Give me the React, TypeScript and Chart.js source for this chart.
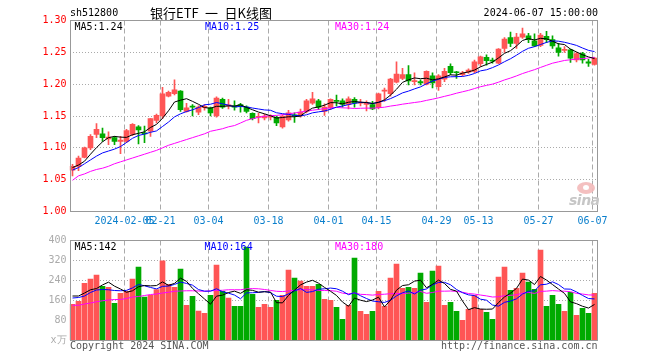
import React, { useEffect, useRef } from 'react';
import { Chart, registerables } from 'chart.js';

Chart.register(...registerables);

// ---------- DATA ----------
const dates = [
  '2024-01-23','2024-01-24','2024-01-25','2024-01-26','2024-01-29','2024-01-30','2024-01-31','2024-02-01','2024-02-02','2024-02-05',
  '2024-02-06','2024-02-07','2024-02-08','2024-02-19','2024-02-20','2024-02-21','2024-02-22','2024-02-23','2024-02-26','2024-02-27',
  '2024-02-28','2024-02-29','2024-03-01','2024-03-04','2024-03-05','2024-03-06','2024-03-07','2024-03-08','2024-03-11','2024-03-12',
  '2024-03-13','2024-03-14','2024-03-15','2024-03-18','2024-03-19','2024-03-20','2024-03-21','2024-03-22','2024-03-25','2024-03-26',
  '2024-03-27','2024-03-28','2024-03-29','2024-04-01','2024-04-02','2024-04-03','2024-04-08','2024-04-09','2024-04-10','2024-04-11',
  '2024-04-12','2024-04-15','2024-04-16','2024-04-17','2024-04-18','2024-04-19','2024-04-22','2024-04-23','2024-04-24','2024-04-25',
  '2024-04-26','2024-04-29','2024-04-30','2024-05-06','2024-05-07','2024-05-08','2024-05-09','2024-05-10','2024-05-13','2024-05-14',
  '2024-05-15','2024-05-16','2024-05-17','2024-05-20','2024-05-21','2024-05-22','2024-05-23','2024-05-24','2024-05-27','2024-05-28',
  '2024-05-29','2024-05-30','2024-05-31','2024-06-03','2024-06-04','2024-06-05','2024-06-06','2024-06-07',
];

const openPrices = [
  1.065,1.071,1.085,1.100,1.121,1.122,1.114,1.116,1.110,1.110,
  1.121,1.133,1.123,1.126,1.143,1.150,1.181,1.185,1.189,1.157,
  1.165,1.156,1.163,1.163,1.150,1.176,1.166,1.166,1.168,1.164,
  1.154,1.148,1.147,1.148,1.148,1.133,1.144,1.152,1.150,1.157,
  1.170,1.174,1.157,1.163,1.174,1.174,1.168,1.176,1.170,1.168,
  1.168,1.163,1.189,1.185,1.203,1.209,1.215,1.204,1.204,1.200,
  1.213,1.196,1.208,1.228,1.219,1.215,1.219,1.220,1.232,1.242,
  1.238,1.233,1.256,1.273,1.264,1.274,1.276,1.268,1.261,1.275,
  1.270,1.257,1.253,1.254,1.238,1.248,1.235,1.231,
];
const highPrices = [
  1.074,1.087,1.101,1.121,1.138,1.131,1.125,1.118,1.118,1.129,
  1.138,1.135,1.134,1.146,1.153,1.195,1.189,1.207,1.190,1.170,
  1.168,1.166,1.168,1.164,1.180,1.178,1.176,1.174,1.170,1.166,
  1.155,1.154,1.153,1.152,1.150,1.152,1.159,1.155,1.161,1.176,
  1.187,1.176,1.169,1.177,1.183,1.177,1.180,1.179,1.176,1.174,
  1.173,1.186,1.194,1.209,1.235,1.225,1.229,1.218,1.207,1.221,
  1.218,1.215,1.225,1.232,1.220,1.220,1.224,1.238,1.244,1.246,
  1.241,1.256,1.273,1.282,1.280,1.288,1.280,1.279,1.280,1.283,
  1.276,1.264,1.259,1.255,1.250,1.250,1.239,1.242,
];
const lowPrices = [
  1.056,1.064,1.084,1.097,1.116,1.110,1.105,1.105,1.091,1.108,
  1.119,1.106,1.108,1.118,1.139,1.146,1.180,1.183,1.157,1.156,
  1.150,1.152,1.159,1.150,1.148,1.162,1.161,1.159,1.156,1.155,
  1.144,1.139,1.144,1.144,1.135,1.131,1.142,1.140,1.148,1.155,
  1.168,1.160,1.151,1.160,1.166,1.164,1.161,1.164,1.166,1.158,
  1.160,1.161,1.173,1.181,1.202,1.207,1.199,1.199,1.199,1.199,
  1.194,1.190,1.204,1.215,1.209,1.213,1.217,1.218,1.228,1.230,
  1.233,1.232,1.250,1.259,1.256,1.272,1.265,1.259,1.259,1.265,
  1.256,1.244,1.250,1.234,1.235,1.233,1.228,1.230,
];
const closePrices = [
  1.071,1.084,1.100,1.118,1.129,1.116,1.117,1.110,1.112,1.127,
  1.137,1.128,1.122,1.146,1.151,1.185,1.187,1.191,1.160,1.163,
  1.164,1.164,1.165,1.155,1.178,1.164,1.167,1.164,1.165,1.157,
  1.146,1.149,1.150,1.150,1.139,1.150,1.155,1.150,1.156,1.174,
  1.177,1.164,1.164,1.176,1.173,1.168,1.177,1.170,1.171,1.170,
  1.161,1.185,1.190,1.208,1.216,1.215,1.205,1.205,1.202,1.220,
  1.202,1.213,1.220,1.218,1.218,1.218,1.222,1.235,1.243,1.237,
  1.236,1.255,1.271,1.264,1.274,1.279,1.270,1.260,1.277,1.270,
  1.260,1.250,1.254,1.241,1.248,1.238,1.233,1.241,
];
// volume, 万手
const volumes = [
  145,157,229,246,262,217,213,149,189,197,
  246,294,174,181,204,319,225,213,286,141,
  177,118,109,181,302,197,170,137,137,374,
  185,133,145,133,161,181,282,250,238,217,
  217,225,165,161,133,85,141,330,117,105,
  117,197,137,250,306,209,213,209,270,153,
  278,298,141,153,117,81,125,181,125,113,
  85,254,294,201,209,270,234,205,362,137,
  181,145,117,193,101,129,109,189,
];

// moving-average values for the first days (their windows start before the chart)
const priceMa5Lead = [1.069, 1.073, 1.079, 1.090];
const priceMa10Lead = [1.065, 1.069, 1.075, 1.081, 1.087, 1.092, 1.095, 1.098, 1.102];
const priceMa30Lead = [
  1.049,1.056,1.059,1.063,1.066,1.068,1.071,1.075,1.078,1.081,
  1.084,1.087,1.090,1.093,1.096,1.100,1.104,1.107,1.110,1.113,
  1.116,1.119,1.122,1.126,1.128,1.130,1.133,1.135,1.139,
];
const volMa5Lead = [178, 178, 190, 203];
const volMa10Lead = [170, 172, 178, 192, 202, 204, 203, 200, 199];
const volMa30Lead = [
  141,141,146,150,155,159,162,164,164,168,
  174,176,180,184,186,190,193,197,198,199,
  199,198,197,199,200,201,203,203,203,
];

const tickIndices = [9, 15, 23, 33, 43, 51, 61, 68, 78, 87];
const tickLabels = ['2024-02-05', '02-21', '03-04', '03-18', '04-01', '04-15', '04-29', '05-13', '05-27', '06-07'];

const priceTicks = [1.0, 1.05, 1.1, 1.15, 1.2, 1.25, 1.3];
const volumeTicks = [0, 80, 160, 240, 320, 400];

const legendPrice = ['MA5:1.24', 'MA10:1.25', 'MA30:1.24'];
const legendVolume = ['MA5:142', 'MA10:164', 'MA30:180'];

// ---------- STYLE ----------
const MONO = '"DejaVu Sans Mono", monospace';
const UP = '#ff5555';
const DOWN = '#00aa00';

function movingAverage(values: number[], n: number, lead: number[]) {
  return values.map((_, i) => {
    if (i < n - 1) return lead[i];
    let s = 0;
    for (let k = i - n + 1; k <= i; k++) s += values[k];
    return s / n;
  });
}

const isUp = closePrices.map((c, i) => c >= openPrices[i]);
const candleColors = isUp.map((u) => (u ? UP : DOWN));

const framePlugin = {
  id: 'frame',
  beforeDatasetsDraw(chart: any) {
    const { ctx, chartArea } = chart;
    const xs = chart.scales.x;
    ctx.save();
    ctx.strokeStyle = '#aaaaaa';
    ctx.lineWidth = 1;
    ctx.setLineDash([5, 3]);
    for (const i of tickIndices) {
      const x = Math.floor(xs.getPixelForValue(i) - 2) + 0.5;
      ctx.beginPath();
      ctx.moveTo(x, chartArea.top);
      ctx.lineTo(x, chartArea.bottom);
      ctx.stroke();
    }
    ctx.restore();
  },
  afterDraw(chart: any) {
    const { ctx, chartArea } = chart;
    const x0 = Math.round(chartArea.left) + 0.5;
    const x1 = Math.floor(chartArea.right) + 0.5;
    const y0 = Math.floor(chartArea.top) + 0.5;
    const y1 = Math.floor(chartArea.bottom) + 0.5;
    ctx.save();
    ctx.strokeStyle = '#999999';
    ctx.lineWidth = 1;
    ctx.setLineDash([]);
    ctx.strokeRect(x0, y0, x1 - x0, y1 - y0);
    ctx.restore();
  },
};

function lineDs(data: number[], color: string) {
  return {
    type: 'line' as const,
    data,
    borderColor: color,
    backgroundColor: color,
    borderWidth: 1,
    pointRadius: 0,
    tension: 0,
    fill: false,
    order: 0,
  };
}

export default function App() {
  const priceRef = useRef<HTMLCanvasElement>(null);
  const volRef = useRef<HTMLCanvasElement>(null);

  useEffect(() => {
    Chart.defaults.font.family = MONO;
    Chart.defaults.font.size = 10;

    const ma5 = movingAverage(closePrices, 5, priceMa5Lead);
    const ma10 = movingAverage(closePrices, 10, priceMa10Lead);
    const ma30 = movingAverage(closePrices, 30, priceMa30Lead);
    const vma5 = movingAverage(volumes, 5, volMa5Lead);
    const vma10 = movingAverage(volumes, 10, volMa10Lead);
    const vma30 = movingAverage(volumes, 30, volMa30Lead);

    const wicks = lowPrices.map((l, i) => [l, highPrices[i]]);
    const bodies = openPrices.map((o, i) => [Math.min(o, closePrices[i]), Math.max(o, closePrices[i])]);

    const priceChart = new Chart(priceRef.current as HTMLCanvasElement, {
      type: 'bar',
      data: {
        labels: dates,
        datasets: [
          lineDs(ma5, '#000000'),
          lineDs(ma10, '#0000ff'),
          lineDs(ma30, '#ff00ff'),
          {
            type: 'bar',
            data: wicks as any,
            backgroundColor: candleColors,
            barThickness: 1,
            grouped: false,
            borderWidth: 0,
            order: 2,
          } as any,
          {
            type: 'bar',
            data: bodies as any,
            backgroundColor: candleColors,
            barThickness: 5,
            grouped: false,
            minBarLength: 1,
            borderWidth: 0,
            order: 1,
          } as any,
        ],
      },
      options: {
        animation: false,
        responsive: false,
        events: [],
        layout: { padding: { top: 20.5, right: 62.5, left: 0, bottom: 0 } },
        plugins: { legend: { display: false }, tooltip: { enabled: false } },
        scales: {
          x: {
            offset: true,
            grid: { display: false, drawTicks: false },
            border: { display: false },
            ticks: {
              autoSkip: false,
              maxRotation: 0,
              minRotation: 0,
              padding: 4,
              labelOffset: -2,
              color: '#0a7fcc',
              font: { family: MONO, size: 10 },
              callback: (_v: any, i: number) => {
                const k = tickIndices.indexOf(i);
                return k >= 0 ? tickLabels[k] : '';
              },
            },
            afterFit: (s: any) => {
              s.height = 360 - 211.5;
            },
          },
          y: {
            min: priceTicks[0],
            max: priceTicks[priceTicks.length - 1],
            afterBuildTicks: (s: any) => {
              s.ticks = priceTicks.map((v) => ({ value: v }));
            },
            ticks: {
              color: '#ff0000',
              padding: 3,
              font: { family: MONO, size: 10 },
              callback: (v: any) => Number(v).toFixed(2),
            },
            grid: {
              drawTicks: false,
              color: (c: any) =>
                c.tick && (c.tick.value <= 1.0001 || c.tick.value >= 1.2999) ? 'rgba(0,0,0,0)' : '#aaaaaa',
            },
            border: { display: false, dash: [1, 2] },
            afterFit: (s: any) => {
              s.width = 69.5;
            },
          },
        },
      } as any,
      plugins: [framePlugin],
    });

    const volChart = new Chart(volRef.current as HTMLCanvasElement, {
      type: 'bar',
      data: {
        labels: dates,
        datasets: [
          lineDs(vma5, '#000000'),
          lineDs(vma10, '#0000ff'),
          lineDs(vma30, '#ff00ff'),
          {
            type: 'bar',
            data: volumes,
            backgroundColor: candleColors,
            barThickness: 5,
            borderWidth: 0,
            order: 1,
          } as any,
        ],
      },
      options: {
        animation: false,
        responsive: false,
        events: [],
        layout: { padding: { top: 240.5, right: 62.5, left: 0, bottom: 19.5 } },
        plugins: { legend: { display: false }, tooltip: { enabled: false } },
        scales: {
          x: {
            display: false,
            offset: true,
          },
          y: {
            min: volumeTicks[0],
            max: volumeTicks[volumeTicks.length - 1],
            afterBuildTicks: (s: any) => {
              s.ticks = volumeTicks.map((v) => ({ value: v }));
            },
            ticks: {
              color: '#aaaaaa',
              padding: 3,
              font: { family: MONO, size: 10 },
              callback: (v: any) => (Number(v) === 0 ? 'x万' : String(v)),
            },
            grid: {
              drawTicks: false,
              color: (c: any) =>
                c.tick && (c.tick.value <= 0 || c.tick.value >= 400) ? 'rgba(0,0,0,0)' : '#aaaaaa',
            },
            border: { display: false, dash: [1, 2] },
            afterFit: (s: any) => {
              s.width = 69.5;
            },
          },
        },
      } as any,
      plugins: [framePlugin],
    });

    return () => {
      priceChart.destroy();
      volChart.destroy();
    };
  }, []);

  const txt = (left: number | null, right: number | null, cy: number, size: number, color: string, family: string, extra: any = {}) => {
    const st: any = {
      position: 'absolute',
      top: cy - size / 2 - 1,
      height: size + 2,
      lineHeight: `${size + 2}px`,
      fontSize: size,
      fontFamily: family,
      color,
      whiteSpace: 'pre',
      ...extra,
    };
    if (left !== null) st.left = left;
    if (right !== null) st.right = 660 - right;
    return st;
  };

  return (
    <div style={{ position: 'absolute', left: 0, top: 0, width: 660, height: 360, background: '#ffffff', overflow: 'hidden' }}>
      <canvas ref={priceRef} width={660} height={360} style={{ position: 'absolute', left: 0, top: 0, width: 660, height: 360 }} />
      <canvas ref={volRef} width={660} height={360} style={{ position: 'absolute', left: 0, top: 0, width: 660, height: 360 }} />

      <div style={txt(70, null, 12.5, 10, '#000', MONO)}>sh512800</div>
      <div style={txt(150, null, 12, 13, '#000', '"Noto Sans CJK SC", sans-serif')}>{'银行ETF\u2002一\u2002日K线图'}</div>
      <div style={txt(null, 598, 12.5, 10, '#000', MONO)}>2024-06-07 15:00:00</div>

      <div style={txt(74.5, null, 26.5, 10, '#000000', MONO)}>{legendPrice[0]}</div>
      <div style={txt(205, null, 26.5, 10, '#0000ff', MONO)}>{legendPrice[1]}</div>
      <div style={txt(335, null, 26.5, 10, '#ff00ff', MONO)}>{legendPrice[2]}</div>

      <div style={txt(74.5, null, 246.5, 10, '#000000', MONO)}>{legendVolume[0]}</div>
      <div style={txt(204.5, null, 246.5, 10, '#0000ff', MONO)}>{legendVolume[1]}</div>
      <div style={txt(335, null, 246.5, 10, '#ff00ff', MONO)}>{legendVolume[2]}</div>

      <div style={txt(70, null, 345.5, 10, '#555555', MONO)}>Copyright 2024 SINA.COM</div>
      <div style={txt(null, 597.5, 345.5, 10, '#555555', MONO)}>http://finance.sina.com.cn</div>

      <div style={{ position: 'absolute', left: 577, top: 182, width: 18, height: 12, borderRadius: '50%', background: '#f3b9b9', opacity: 0.9 }} />
      <div style={{ position: 'absolute', left: 583, top: 185, width: 6, height: 5, borderRadius: '50%', background: '#ffffff' }} />
      <div style={txt(569, null, 200, 14, '#c6c6c6', '"DejaVu Sans", sans-serif', { fontStyle: 'italic', fontWeight: 'bold', letterSpacing: -0.5 })}>sina</div>
    </div>
  );
}
